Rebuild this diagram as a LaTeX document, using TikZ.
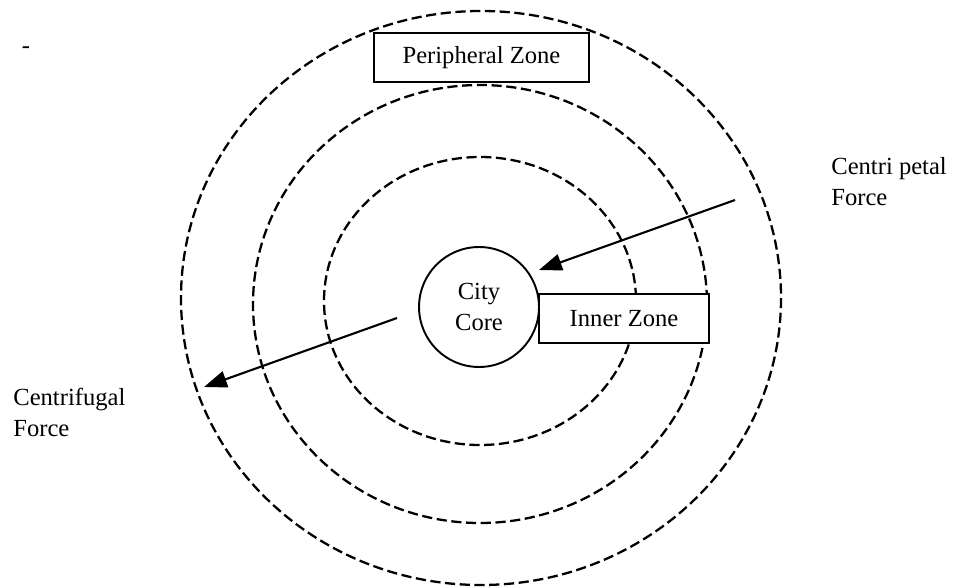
\documentclass[tikz,border=0pt]{standalone}
\usepackage{fontspec}
\setmainfont{Liberation Serif}
\usetikzlibrary{arrows.meta}

\begin{document}
\begin{tikzpicture}[x=0.02cm,y=-0.02cm,
  zone/.style={line width=1.3pt,dash pattern=on 5.8pt off 2.6pt},
  txt/.style={font=\fontsize{14}{17.6}\selectfont,inner sep=0pt},
  zonebox/.style={draw,fill=white,line width=1pt,minimum height=0.98cm,txt},
  force/.style={line width=1.2pt,-{Triangle[length=13pt,width=9.5pt]}}]

  \useasboundingbox (0,0) rectangle (959,587);

  % Zones (dashed rings)
  \draw[zone] (481,298) ellipse [x radius=300,y radius=287];
  \draw[zone] (480,304) ellipse [x radius=227,y radius=219];
  \draw[zone] (480,301) ellipse [x radius=156,y radius=144];

  % City core
  \node[draw,fill=white,circle,line width=1.1pt,minimum size=2.4cm,txt,align=center] (core) at (479,307) {City\\Core};

  % Zone labels
  \node[zonebox,minimum width=4.3cm] (peri) at (481.5,57.5) {Peripheral Zone};
  \node[zonebox,minimum width=3.4cm] (inner) at (624,318.5) {Inner Zone};

  % Force labels
  \node[txt,align=left,anchor=west] (cpetal) at (831,182) {Centri petal\\Force};
  \node[txt,align=left,anchor=west] (cfugal) at (13,412) {Centrifugal\\Force};
  \node[txt] (mark) at (26,50) {-};

  % Force arrows
  \coordinate (pstart) at (735,200);
  \coordinate (pend) at (539,270);
  \coordinate (fstart) at (397,318);
  \coordinate (fend) at (204,387);
  \draw[force] (pstart) -- (pend);   % centripetal
  \draw[force] (fstart) -- (fend);   % centrifugal

\end{tikzpicture}
\end{document}
